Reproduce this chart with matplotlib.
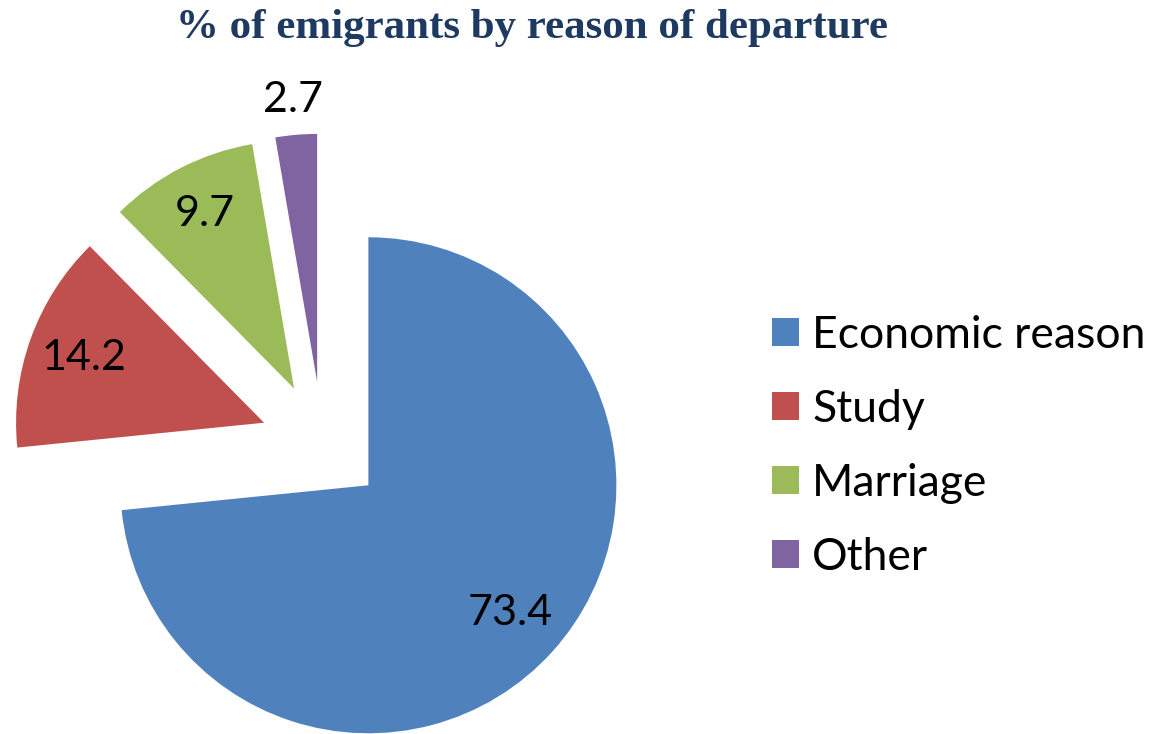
import matplotlib
matplotlib.use("Agg")
import matplotlib.pyplot as plt
import numpy as np

categories = ["Economic reason", "Study", "Marriage", "Other"]
values = [73.4, 14.2, 9.7, 2.7]
colors = ["#4F81BD", "#C0504D", "#9BBB59", "#8064A2"]
title = "% of emigrants by reason of departure"

W, H = 1150, 734
fig = plt.figure(figsize=(W / 100, H / 100), dpi=100)
ax = fig.add_axes([0, 0, 1, 1])

center = (322.4, H - 443.7)
radius = 248
explode = [62] * len(values)

wedges, texts, autotexts = ax.pie(
    values, colors=colors, startangle=90, counterclock=False,
    center=center, radius=radius, explode=explode,
    autopct=lambda p: "", pctdistance=0.77,
    wedgeprops=dict(linewidth=0), frame=True,
)
label_dist = [0.77, 0.77, 0.79, 1.14]
for w, v, d in zip(wedges, values, label_dist):
    th = np.deg2rad((w.theta1 + w.theta2) / 2)
    cx, cy = w.center
    ax.text(cx + d * radius * np.cos(th), cy + d * radius * np.sin(th),
            f"{v}", ha="center", va="center", fontsize=31, family="Lato",
            color="black")

ax.set_xlim(0, W)
ax.set_ylim(0, H)
ax.set_aspect("equal")
ax.axis("off")

leg = ax.legend(wedges, categories, loc="upper left",
                bbox_to_anchor=(772 / W, 1 - 315 / H),
                frameon=False, prop=dict(family="Lato", size=32),
                handlelength=0.6, handleheight=0.6, handletextpad=0.3,
                labelspacing=0.74, borderaxespad=0, borderpad=0)

fig.text(532 / W, 1 - 28 / H, title, ha="center", va="center",
         fontsize=31, fontweight="bold", family="Liberation Serif",
         color="#1F3A60")

fig.savefig("out.png", dpi=100)
